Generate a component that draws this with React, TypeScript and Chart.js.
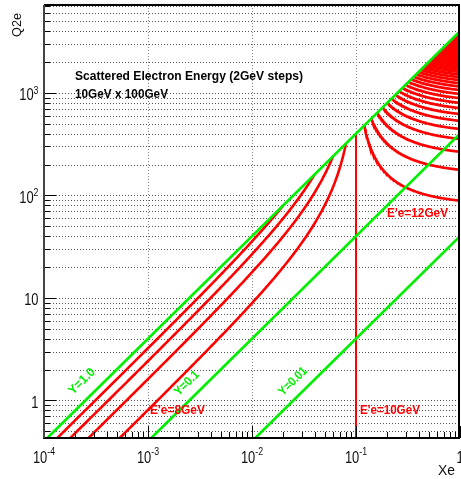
import React, { useEffect, useRef } from "react";
import { Chart, registerables } from "chart.js";

Chart.register(...registerables);

// ---------------- data ----------------
const electronBeamGeV = 10;
const protonBeamGeV = 100;
const xeRange = [1e-4, 1];
const q2eRange = [0.43, 7200];
const inelasticityLines = [1.0, 0.1, 0.01];
const inelasticityLabels = ["Y=1.0", "Y=0.1", "Y=0.01"];
const energiesBelowBeam = [2, 4, 6, 8];
const energyAtBeam = 10;
const energiesAboveBeam = [
  12, 14, 16, 18, 20, 22, 24, 26, 28, 30, 32, 34, 36, 38, 40, 42, 44, 46, 48, 50, 52, 54,
  56, 58, 60, 62, 64, 66, 68, 70, 72, 74, 76, 78, 80, 82, 84, 86, 88, 90, 92, 94, 96, 98,
];
const energyLabels = ["E'e=8GeV", "E'e=10GeV", "E'e=12GeV"];
const xTickExponents = [-4, -3, -2, -1, 0];
const yTickExponents = [0, 1, 2, 3];
const titleLines = ["Scattered Electron Energy (2GeV steps)", "10GeV x 100GeV"];
const axisTitles = { x: "Xe", y: "Q2e" };

// ---------------- kinematics (isolines of the scattered electron energy) ----------------
const sGeV2 = 4 * electronBeamGeV * protonBeamGeV;

function isoEnergyCurve(E: number) {
  const pts: { x: number; y: number }[] = [];
  const below = E < electronBeamGeV;
  const x0 = below ? xeRange[0] * 0.8 : E / protonBeamGeV;
  const x1 = below ? E / protonBeamGeV : xeRange[1];
  const n = 220;
  for (let i = 0; i <= n; i++) {
    const x = x0 * Math.pow(x1 / x0, i / n);
    const yIn = (electronBeamGeV - E) / (electronBeamGeV - x * protonBeamGeV);
    pts.push({ x, y: sGeV2 * x * yIn });
  }
  return pts;
}

const RED = "#ff0000";
const GREEN = "#00f000";
const FONT = '"Liberation Sans", Arial, Helvetica, sans-serif';

function fitText(
  ctx: CanvasRenderingContext2D,
  text: string,
  x: number,
  y: number,
  size: number,
  weight: string,
  width: number,
  align: CanvasTextAlign,
  color: string,
  angle = 0,
  baseline: CanvasTextBaseline = "alphabetic"
) {
  ctx.save();
  ctx.font = `${weight} ${size}px ${FONT}`;
  const w = ctx.measureText(text).width;
  const sx = width > 0 ? width / w : 1;
  ctx.translate(x, y);
  ctx.rotate(angle);
  ctx.scale(sx, 1);
  ctx.textAlign = align;
  ctx.textBaseline = baseline;
  ctx.fillStyle = color;
  ctx.fillText(text, 0, 0);
  ctx.restore();
}

function powLabel(
  ctx: CanvasRenderingContext2D,
  exp: number,
  x: number,
  baseline: number,
  align: "center" | "right",
  raise: number
) {
  const base = exp === 0 ? "1" : "10";
  const sup = exp === 0 || exp === 1 ? "" : String(exp);
  const cBase = 0.76;
  const cSup = 0.8;
  ctx.save();
  ctx.fillStyle = "#111";
  ctx.textBaseline = "alphabetic";
  ctx.textAlign = "left";
  ctx.font = `17px ${FONT}`;
  const wb = ctx.measureText(base).width * cBase;
  ctx.font = `11px ${FONT}`;
  const ws = sup ? ctx.measureText(sup).width * cSup : 0;
  const total = wb + ws;
  const start = align === "center" ? x - total / 2 : x - total;
  ctx.save();
  ctx.font = `17px ${FONT}`;
  ctx.translate(start, baseline);
  ctx.scale(cBase, 1);
  ctx.fillText(base, 0, 0);
  ctx.restore();
  if (sup) {
    ctx.save();
    ctx.font = `11px ${FONT}`;
    ctx.translate(start + wb, baseline - raise);
    ctx.scale(cSup, 1);
    ctx.fillText(sup, 0, 0);
    ctx.restore();
  }
  ctx.restore();
}

function logTicks(min: number, max: number) {
  const out: { v: number; major: boolean }[] = [];
  const e0 = Math.floor(Math.log10(min));
  const e1 = Math.ceil(Math.log10(max));
  for (let e = e0; e <= e1; e++) {
    for (let m = 1; m <= 9; m++) {
      const v = m * Math.pow(10, e);
      if (v >= min * 0.9999 && v <= max * 1.0001) out.push({ v, major: m === 1 });
    }
  }
  return out;
}

const framePlugin = {
  id: "rootFrame",
  beforeDatasetsDraw(chart: any) {
    const { ctx, chartArea: a, scales } = chart;
    const xs = scales.x;
    const ys = scales.y;
    ctx.save();
    ctx.lineWidth = 1;
    ctx.setLineDash([1, 2]);
    ctx.strokeStyle = "#555";
    for (const t of logTicks(q2eRange[0], q2eRange[1])) {
      const py = Math.round(ys.getPixelForValue(t.v)) + 0.5;
      ctx.beginPath();
      ctx.moveTo(a.left, py);
      ctx.lineTo(a.right, py);
      ctx.stroke();
    }
    ctx.strokeStyle = "#888";
    for (const e of xTickExponents) {
      const v = Math.pow(10, e);
      if (v <= xeRange[0] || v >= xeRange[1]) continue;
      const px = Math.round(xs.getPixelForValue(v)) + 0.5;
      ctx.beginPath();
      ctx.moveTo(px, a.top);
      ctx.lineTo(px, a.bottom);
      ctx.stroke();
    }
    ctx.restore();
  },
  afterDatasetsDraw(chart: any) {
    const { ctx, chartArea: a, scales } = chart;
    const xs = scales.x;
    const ys = scales.y;
    ctx.save();
    ctx.setLineDash([]);
    ctx.strokeStyle = "#000";
    ctx.lineWidth = 1;
    for (const t of logTicks(q2eRange[0], q2eRange[1])) {
      const py = Math.round(ys.getPixelForValue(t.v)) + 0.5;
      ctx.beginPath();
      ctx.moveTo(a.left, py);
      ctx.lineTo(a.left + (t.major ? 12 : 6), py);
      ctx.stroke();
    }
    for (const t of logTicks(xeRange[0], xeRange[1])) {
      const px = Math.round(xs.getPixelForValue(t.v)) + 0.5;
      ctx.beginPath();
      ctx.moveTo(px, a.bottom);
      ctx.lineTo(px, a.bottom - (t.major ? 12 : 6));
      ctx.stroke();
    }
    ctx.lineWidth = 2;
    ctx.strokeStyle = "#000";
    ctx.beginPath();
    ctx.moveTo(a.left, a.top);
    ctx.lineTo(a.right - 1, a.top);
    ctx.lineTo(a.right - 1, a.bottom);
    ctx.stroke();
    ctx.beginPath();
    ctx.moveTo(a.left - 1, a.bottom);
    ctx.lineTo(a.right, a.bottom);
    ctx.stroke();
    ctx.strokeStyle = "#444";
    ctx.beginPath();
    ctx.moveTo(a.left, a.top);
    ctx.lineTo(a.left, a.bottom);
    ctx.stroke();

    for (const e of xTickExponents) {
      powLabel(ctx, e, xs.getPixelForValue(Math.pow(10, e)), a.bottom + 25, "center", 8.5);
    }
    for (const e of yTickExponents) {
      powLabel(ctx, e, a.left - 5.5, ys.getPixelForValue(Math.pow(10, e)) + 7.5, "right", 6.5);
    }

    fitText(ctx, axisTitles.y, 17, a.top + 8, 13, "normal", 24, "right", "#111", -Math.PI / 2, "middle");
    fitText(ctx, axisTitles.x, a.right - 5, a.bottom + 37, 14, "normal", 17, "right", "#111");

    fitText(ctx, titleLines[0], a.left + 31, a.top + 75, 12.5, "bold", 228, "left", "#000");
    fitText(ctx, titleLines[1], a.left + 31, a.top + 92.5, 12, "bold", 93, "left", "#000");

    const p1x = xs.getPixelForValue(xeRange[0]);
    const p1y = ys.getPixelForValue(sGeV2 * xeRange[0]);
    const p2x = xs.getPixelForValue(xeRange[1]);
    const p2y = ys.getPixelForValue(sGeV2 * xeRange[1]);
    const ang = Math.atan2(p2y - p1y, p2x - p1x);
    const yLabelAnchors = [
      [2.32e-4, 1.53],
      [2.37e-3, 1.47],
      [2.48e-2, 1.53],
    ];
    const yLabelWidths = [32, 30, 35];
    inelasticityLabels.forEach((t, i) => {
      const [vx, vy] = yLabelAnchors[i];
      fitText(ctx, t, xs.getPixelForValue(vx), ys.getPixelForValue(vy), 12.5, "bold", yLabelWidths[i], "center", GREEN, ang, "middle");
    });

    const eAnchors = [
      [1.045e-3, 0.8],
      [0.109, 0.8],
      [0.199, 67],
    ];
    const eWidths = [55, 60, 61];
    energyLabels.forEach((t, i) => {
      const [vx, vy] = eAnchors[i];
      fitText(ctx, t, xs.getPixelForValue(vx), ys.getPixelForValue(vy), 13.5, "bold", eWidths[i], "left", RED, 0, "middle");
    });
    ctx.restore();
  },
};

export default function App() {
  const ref = useRef<HTMLCanvasElement>(null);
  useEffect(() => {
    document.body.style.margin = "0";
    const datasets: any[] = [];
    inelasticityLines.forEach((Y) => {
      datasets.push({
        data: [
          { x: xeRange[0], y: sGeV2 * xeRange[0] * Y },
          { x: xeRange[1], y: sGeV2 * xeRange[1] * Y },
        ],
        borderColor: GREEN,
        borderWidth: 2.7,
        order: 0,
      });
    });
    [...energiesBelowBeam, ...energiesAboveBeam].forEach((E) => {
      datasets.push({
        data: isoEnergyCurve(E),
        borderColor: RED,
        borderWidth: 2.6,
        order: 1,
      });
    });
    datasets.push({
      data: [
        { x: energyAtBeam / protonBeamGeV, y: q2eRange[0] * 0.5 },
        { x: energyAtBeam / protonBeamGeV, y: sGeV2 * (energyAtBeam / protonBeamGeV) },
      ],
      borderColor: RED,
      borderWidth: 2,
      order: 1,
    });
    datasets.forEach((d) => {
      d.showLine = true;
      d.pointRadius = 0;
      d.fill = false;
      d.tension = 0;
      d.clip = 0;
    });
    const chart = new Chart(ref.current!, {
      type: "scatter",
      data: { datasets },
      options: {
        animation: false,
        responsive: false,
        maintainAspectRatio: false,
        events: [],
        layout: { padding: { left: 44, top: 5, right: 1, bottom: 41 } },
        scales: {
          x: { type: "logarithmic", min: xeRange[0], max: xeRange[1], display: false, bounds: "data" },
          y: { type: "logarithmic", min: q2eRange[0], max: q2eRange[1], display: false, bounds: "data" },
        },
        plugins: { legend: { display: false }, tooltip: { enabled: false } },
      } as any,
      plugins: [framePlugin],
    });
    return () => chart.destroy();
  }, []);
  return (
    <canvas
      ref={ref}
      width={461}
      height={479}
      style={{ display: "block", width: 461, height: 479 }}
    />
  );
}
